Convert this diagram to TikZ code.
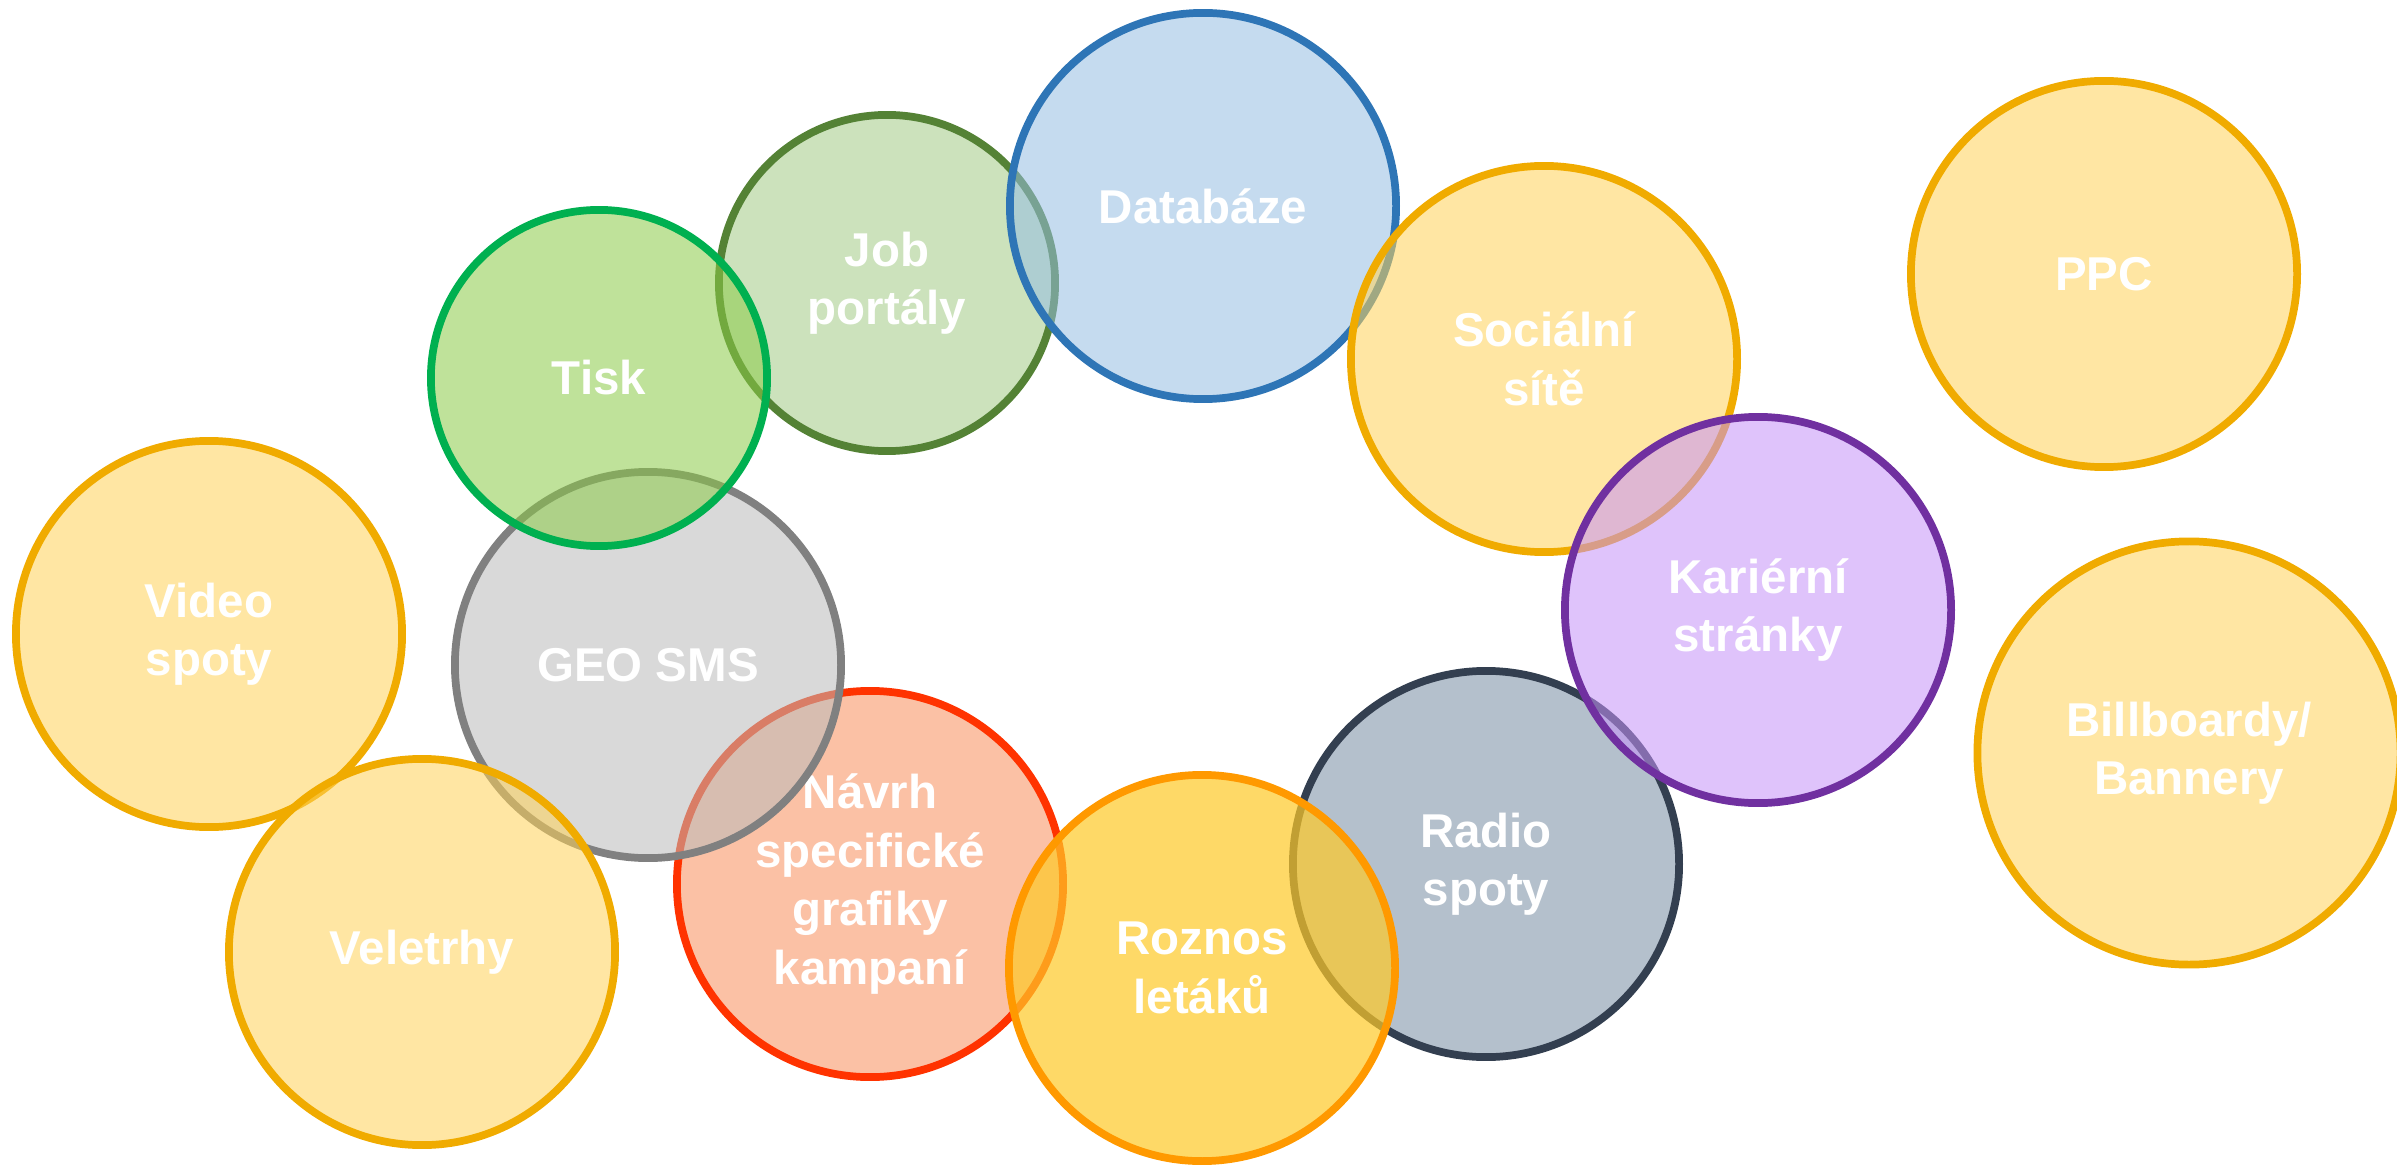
\documentclass[tikz,border=0pt]{standalone}
\usepackage{fontspec}
\setmainfont{Liberation Sans}
\definecolor{dbF}{RGB}{150,190,226}\definecolor{dbS}{RGB}{46,117,182}
\definecolor{jpF}{RGB}{162,202,133}\definecolor{jpS}{RGB}{84,130,53}
\definecolor{tkF}{RGB}{139,202,71}\definecolor{tkS}{RGB}{0,176,80}
\definecolor{ylF}{RGB}{255,210,88}\definecolor{ylS}{RGB}{240,171,0}
\definecolor{krF}{RGB}{197,146,248}\definecolor{krS}{RGB}{112,48,160}
\definecolor{geF}{RGB}{186,186,186}\definecolor{geS}{RGB}{128,128,128}
\definecolor{nvF}{RGB}{248,142,91}\definecolor{nvS}{RGB}{255,51,0}
\definecolor{rzF}{RGB}{254,201,39}\definecolor{rzS}{RGB}{255,153,0}
\definecolor{rdF}{RGB}{119,140,162}\definecolor{rdS}{RGB}{51,63,80}
\tikzset{
  bub/.style={circle, inner sep=0pt, minimum size=3.86cm, line width=2.2pt,
    fill opacity=0.55, text opacity=1, text=white, align=center,
    font=\fontsize{13.5}{16.6}\selectfont\bfseries},
  yel/.style={bub, draw=ylS, fill=ylF}
}
\begin{document}
\begin{tikzpicture}[x=0.01cm,y=-0.01cm]
\useasboundingbox (0,0) rectangle (2397,1167);
\node[yel] (video) at (209,634) {Video\\spoty};
\node[bub, draw=nvS, fill=nvF] (navrh) at (870,884) {Návrh\\specifické\\grafiky\\kampaní};
\node[bub, draw=geS, fill=geF] (geo) at (648,665) {GEO SMS};
\node[yel] (veletrhy) at (422,952) {Veletrhy};
\node[bub, draw=jpS, fill=jpF, minimum size=3.36cm] (job) at (887,283) {Job\\portály};
\node[bub, draw=tkS, fill=tkF, minimum size=3.36cm] (tisk) at (599,378) {Tisk};
\node[bub, draw=dbS, fill=dbF] (db) at (1203,206) {Databáze};
\node[yel] (soc) at (1544,359) {Sociální\\sítě};
\node[bub, draw=rdS, fill=rdF] (radio) at (1486,864) {Radio\\spoty};
\node[bub, draw=krS, fill=krF] (kar) at (1758,610) {Kariérní\\stránky};
\node[bub, draw=rzS, fill=rzF, fill opacity=0.7, text opacity=1] (roz) at (1202,968) {Roznos\\letáků};
\node[yel] (ppc) at (2104,274) {PPC};
\node[yel, minimum size=4.23cm] (bill) at (2189,753) {Billboardy/\\Bannery};
\end{tikzpicture}
\end{document}
